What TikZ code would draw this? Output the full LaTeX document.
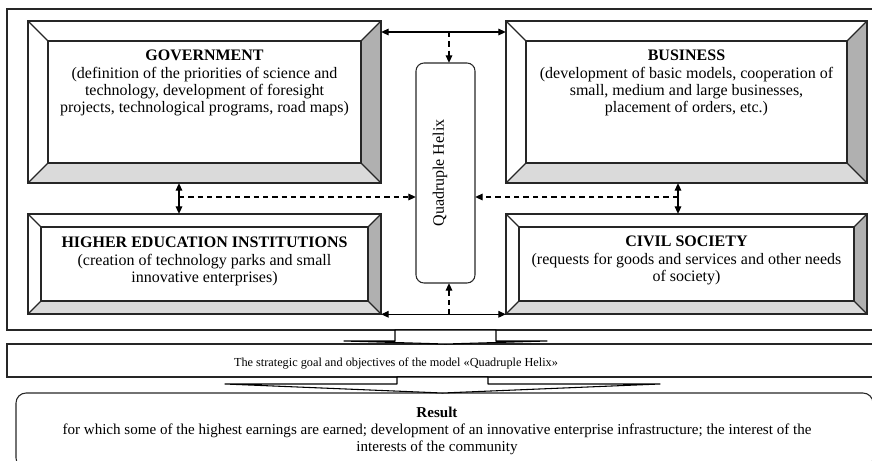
\documentclass[tikz,border=0pt]{standalone}
\usepackage{fontspec}
\setmainfont{Liberation Serif}
\usetikzlibrary{arrows.meta,fit}

\definecolor{bevlo}{HTML}{DADADA}
\definecolor{bevrt}{HTML}{B0B0B0}

% Bevelled panel: name, x1, y1, x2, y2, bevel depth
\newcommand{\bevelbox}[6]{%
  \coordinate (#1-a) at (#2,#3);
  \coordinate (#1-b) at (#4,#5);
  \fill[white] (#2,#3) rectangle (#4,#5);
  \fill[bevlo] (#2,#5) -- (#4,#5) -- (#4-#6,#5-#6) -- (#2+#6,#5-#6) -- cycle;
  \fill[bevrt] (#4,#3) -- (#4,#5) -- (#4-#6,#5-#6) -- (#4-#6,#3+#6) -- cycle;
  \draw[bev] (#2,#3) rectangle (#4,#5);
  \draw[bev] (#2+#6,#3+#6) rectangle (#4-#6,#5-#6);
  \draw[bev] (#2,#3) -- (#2+#6,#3+#6) (#4,#3) -- (#4-#6,#3+#6)
             (#2,#5) -- (#2+#6,#5-#6) (#4,#5) -- (#4-#6,#5-#6);
  \node[fit=(#1-a)(#1-b), inner sep=0pt] (#1) {};
}

% Flat block arrow: stem left, stem right, top, neck, head left, head right, tip y, centre x
\newcommand{\flatarrow}[8]{%
  \filldraw[fill=white, draw=black, line width=0.8pt, line join=round]
    (#1,#3) -- (#1,#4) -- (#5,#4) -- (#8,#7) -- (#6,#4) -- (#2,#4) -- (#2,#3) -- cycle;
}

\begin{document}
\begin{tikzpicture}[x=0.75pt,y=-0.75pt,
  outerframe/.style={draw=black!85, line width=0.8pt},
  bev/.style={draw=black!85, line width=0.9pt},
  link/.style={line width=0.8pt, {Triangle[length=5.5pt,width=5pt]}-{Triangle[length=5.5pt,width=5pt]}},
  dlink/.style={line width=0.8pt, dash pattern=on 4pt off 3pt, -{Triangle[length=5.5pt,width=5pt]}},
  boxtext/.style={anchor=north, align=center, inner sep=0pt, font=\fontsize{12}{13}\selectfont},
]
\useasboundingbox (0,0) rectangle (872,461);
\clip (0,0) rectangle (872,461);

% outer frame of the model
\draw[outerframe] (7,9) rectangle (885,330);

% the four actors
\bevelbox{gov}{28}{21}{381}{183}{20}
\bevelbox{bus}{506}{21}{867}{183}{20}
\bevelbox{hei}{28}{214}{381}{314}{13}
\bevelbox{civ}{506}{214}{867}{314}{13}

\node[boxtext] (govtxt) at (204.5,50) {\textbf{GOVERNMENT}\\(definition of the priorities of science and\\technology, development of foresight\\projects, technological programs, road maps)};
\node[boxtext] (bustxt) at (686.5,50) {\textbf{BUSINESS}\\(development of basic models, cooperation of\\small, medium and large businesses,\\placement of orders, etc.)};
\node[boxtext] (heitxt) at (204.5,237) {\textbf{HIGHER EDUCATION INSTITUTIONS}\\(creation of technology parks and small\\innovative enterprises)};
\node[boxtext] (civtxt) at (686.5,236) {\textbf{CIVIL SOCIETY}\\(requests for goods and services and other needs\\of society)};

% central helix
\coordinate (hx-a) at (416,63);
\coordinate (hx-b) at (475,283);
\draw[draw=black!85, line width=0.8pt, rounded corners=6pt] (hx-a) rectangle (hx-b);
\node[fit=(hx-a)(hx-b), inner sep=0pt] (helix) {};
\node[rotate=90, inner sep=0pt, font=\fontsize{12}{13}\selectfont] (helixtxt) at (440,173) {Quadruple Helix};

% connectors
\coordinate (ty) at (0,32);
\coordinate (dy) at (0,197);
\coordinate (ax) at (449,0);
\coordinate (lx) at (179,0);
\coordinate (rx) at (678,0);

\draw[link] (gov.east |- ty) -- (bus.west |- ty);
\draw[dlink] (ax |- ty) -- (ax |- helix.north);
\draw[link] (hei.south east) -- (civ.south west);
\draw[dlink] (ax |- hei.south) -- (ax |- helix.south);
\draw[link] (lx |- gov.south) -- (lx |- hei.north);
\draw[link] (rx |- bus.south) -- (rx |- civ.north);
\draw[dlink] (lx |- dy) -- (helix.west |- dy);
\draw[dlink] (rx |- dy) -- (helix.east |- dy);

% goal strip
\draw[outerframe] (7,344) rectangle (885,377);
\node[anchor=base, inner sep=0pt, font=\fontsize{9.2}{11}\selectfont] (goal) at (396,366) {The strategic goal and objectives of the model «Quadruple Helix»};

% result panel
\draw[outerframe, rounded corners=7.5pt] (16,393) rectangle (873,468);
\node[anchor=north, align=center, inner sep=0pt, font=\fontsize{11.3}{12.8}\selectfont] (result) at (437,407) {\textbf{Result}\\for which some of the highest earnings are earned; development of an innovative enterprise infrastructure; the interest of the\\interests of the community};

% block arrows between the tiers
\flatarrow{395}{496}{330}{341}{344}{547}{344}{445.5}
\flatarrow{397}{488}{377}{384}{225}{660}{393}{442.5}
\end{tikzpicture}
\end{document}
